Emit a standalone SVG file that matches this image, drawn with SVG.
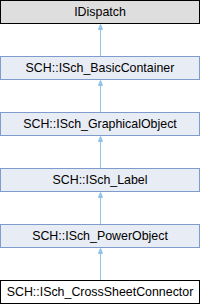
<svg xmlns="http://www.w3.org/2000/svg" width="200" height="304" viewBox="0 0 200 304">
<style>
.n rect{fill:#e8ecf5;stroke:#7f9acc;stroke-width:1}
.n text{font-family:"Liberation Sans",Arial,sans-serif;font-size:12.4px;fill:#000;text-anchor:middle}
#n0 rect{fill:#dedede;stroke:#000}
#n5 rect{fill:#fff;stroke:#000}
.e line{stroke:#8fc3e8;stroke-width:1}
.e polygon{fill:#8fc3e8;stroke:#8fc3e8;stroke-width:1}
</style>
<g class="e" id="edges">
<line x1="100.5" y1="27" x2="100.5" y2="56.5"/><polygon points="100.5,24.5 98.5,29.5 102.5,29.5"/>
<line x1="100.5" y1="83" x2="100.5" y2="112.5"/><polygon points="100.5,80.5 98.5,85.5 102.5,85.5"/>
<line x1="100.5" y1="139" x2="100.5" y2="168.5"/><polygon points="100.5,136.5 98.5,141.5 102.5,141.5"/>
<line x1="100.5" y1="195" x2="100.5" y2="224.5"/><polygon points="100.5,192.5 98.5,197.5 102.5,197.5"/>
<line x1="100.5" y1="251" x2="100.5" y2="280.5"/><polygon points="100.5,248.5 98.5,253.5 102.5,253.5"/>
</g>
<g class="n" id="n0"><rect x="0.5" y="0.5" width="199" height="23"/><text x="100" y="15.5">IDispatch</text></g>
<g class="n" id="n1"><rect x="0.5" y="56.5" width="199" height="23"/><text x="100" y="71.5">SCH::ISch_BasicContainer</text></g>
<g class="n" id="n2"><rect x="0.5" y="112.5" width="199" height="23"/><text x="100" y="127.5">SCH::ISch_GraphicalObject</text></g>
<g class="n" id="n3"><rect x="0.5" y="168.5" width="199" height="23"/><text x="100" y="183.5">SCH::ISch_Label</text></g>
<g class="n" id="n4"><rect x="0.5" y="224.5" width="199" height="23"/><text x="100" y="239.5">SCH::ISch_PowerObject</text></g>
<g class="n" id="n5"><rect x="0.5" y="280.5" width="199" height="23"/><text x="100" y="295.5">SCH::ISch_CrossSheetConnector</text></g>
</svg>
